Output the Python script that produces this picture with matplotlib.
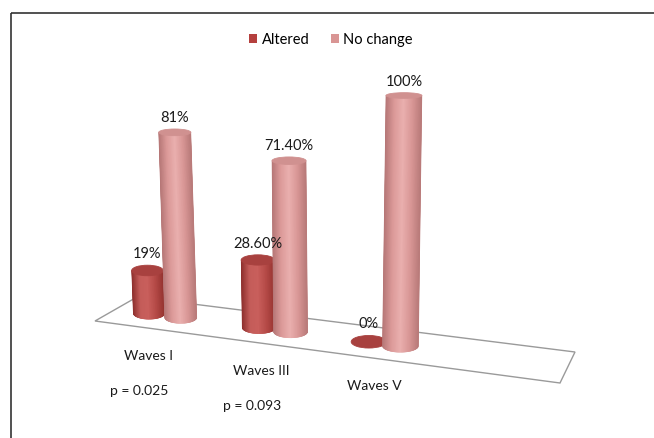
import numpy as np
import matplotlib.pyplot as plt
from matplotlib.patches import Ellipse, Polygon, Rectangle, Patch
from matplotlib.collections import PolyCollection
from matplotlib.colors import LinearSegmentedColormap

plt.rcParams['font.family'] = ['Lato', 'DejaVu Sans']

# -----------------------------
# DATA
# -----------------------------
categories = ["Waves I", "Waves III", "Waves V"]
p_values = ["p = 0.025", "p = 0.093", ""]
altered = [19, 28.6, 0]
no_change = [81, 71.4, 100]
altered_labels = ["19%", "28.60%", "0%"]
no_change_labels = ["81%", "71.40%", "100%"]

# -----------------------------
# PSEUDO 3D GEOMETRY (pixel space)
# -----------------------------
FL = np.array([95.0, 321.0])    # floor front-left
FR = np.array([560.0, 383.0])   # floor front-right
BR = np.array([575.0, 352.0])   # floor back-right
BL = np.array([137.0, 297.0])   # floor back-left
FLOOR_LEN = 3.0
CAT_START, CAT_STEP, SERIES_OFF = 0.325, 0.73, 0.105
VANISH_X, VANISH_D = 334.0, 4770.0   # verticals converge slightly downward

alt_cmap = LinearSegmentedColormap.from_list(
    "alt", ["#8c2e2c", "#c45c59", "#c95f5c", "#b54a47", "#963431"])
nc_cmap = LinearSegmentedColormap.from_list(
    "nc", ["#b57676", "#dc9a99", "#eab0af", "#d99796", "#b97b7a"])
ALT_TOP = "#a8413f"
NC_TOP = "#d09190"


def floor_pt(u, v=0.5):
    s = u / FLOOR_LEN
    front = FL + s * (FR - FL)
    back = BL + s * (BR - BL)
    return front + v * (back - front)


def px_per_pct(u):
    return 2.22 + 0.15 * u


def radius(u):
    return 15.5 + 1.3 * u


def half_h(y):
    return 1.5 + 0.014 * y


def cylinder(ax, u, value, cmap, top_color, label, z):
    cx, by = floor_pt(u)
    r = radius(u)
    h = value * px_per_pct(u)
    ty = by - h
    dx = (cx - VANISH_X) * h / VANISH_D
    bb = half_h(by)
    bt = half_h(ty)
    if value > 0:
        n = 80
        edges = np.linspace(0, 1, n + 1)
        strips = []
        for a, b in zip(edges[:-1], edges[1:]):
            xa, xb = -r + 2 * r * a, -r + 2 * r * b
            ya = by + bb * np.sqrt(max(0.0, 1 - (2 * a - 1) ** 2))
            yb = by + bb * np.sqrt(max(0.0, 1 - (2 * b - 1) ** 2))
            strips.append([(cx + xa, ya), (cx + xb, yb),
                           (cx + dx + xb, ty), (cx + dx + xa, ty)])
        cols = cmap((edges[:-1] + edges[1:]) / 2)
        ax.add_collection(PolyCollection(strips, facecolors=cols,
                                         edgecolors=cols, linewidths=0.4,
                                         zorder=z))
    ax.add_patch(Ellipse((cx + dx, ty), 2 * r, 2 * bt, facecolor=top_color,
                         edgecolor=top_color, lw=0.6, zorder=z + 0.5))
    ax.text(cx + dx, ty - bt - 11, label, ha="center", va="center",
            fontsize=10.5, color="#1a1a1a", zorder=100)


# -----------------------------
# FIGURE
# -----------------------------
fig = plt.figure(figsize=(6.54, 4.38), dpi=100)
ax = fig.add_axes([0, 0, 1, 1])

# chart border
ax.add_patch(Rectangle((11, 12.5), 700, 500, fill=False,
                       edgecolor="#333333", lw=1.2, zorder=0))

# floor
ax.add_patch(Polygon([FL, FR, BR, BL], closed=True, facecolor="white",
                     edgecolor="#9a9a9a", lw=1.0, zorder=1))

z = 2
for i, cat in enumerate(categories):
    uc = CAT_START + CAT_STEP * i
    cylinder(ax, uc - SERIES_OFF, altered[i], alt_cmap, ALT_TOP,
             altered_labels[i], z)
    cylinder(ax, uc + SERIES_OFF, no_change[i], nc_cmap, NC_TOP,
             no_change_labels[i], z + 2)
    z += 4

    fx, fy = floor_pt(uc, 0.0)
    ax.text(fx + 3, fy + 28, cat, ha="center", va="center",
            fontsize=10, color="#1a1a1a")
    if p_values[i]:
        ax.text(fx - 6, fy + 63, p_values[i], ha="center", va="center",
                fontsize=10, color="#1a1a1a")

handles = [Patch(facecolor="#b5403e", label="Altered"),
           Patch(facecolor="#d99594", label="No change")]
ax.legend(handles=handles, loc="center", bbox_to_anchor=(0.506, 0.909),
          ncol=2, frameon=False, fontsize=10.5, handlelength=0.55,
          handleheight=0.55, handletextpad=0.3, columnspacing=1.45,
          borderpad=0.2)

ax.set_xlim(0, 654)
ax.set_ylim(438, 0)
ax.axis("off")

fig.savefig("out.png", dpi=100)
